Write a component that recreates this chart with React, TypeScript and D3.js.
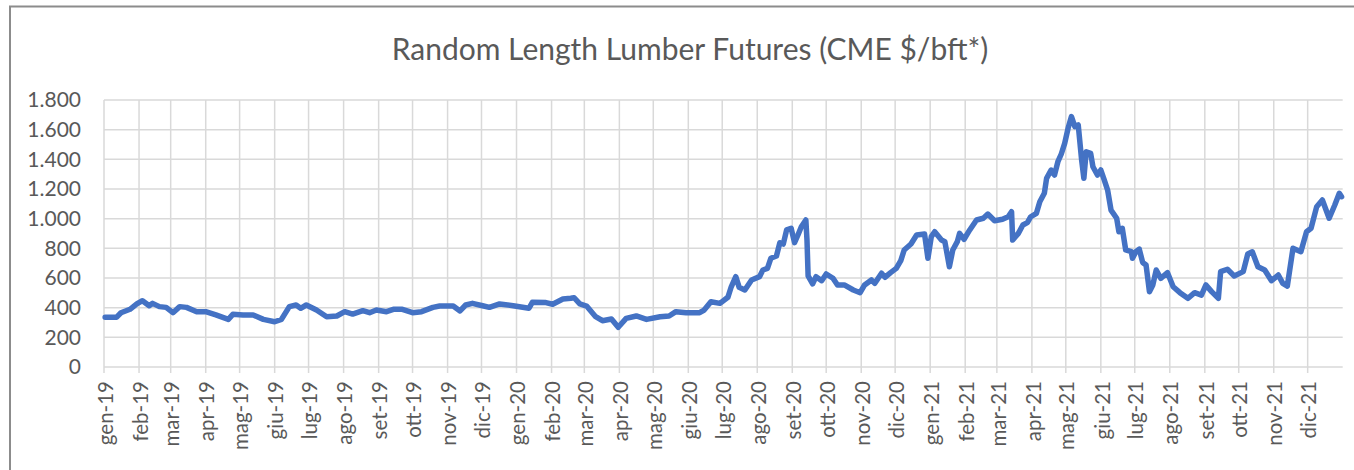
import React from "react";
import * as d3 from "d3";

const title = "Random Length Lumber Futures (CME $/bft*)";
const monthNames = ["gen", "feb", "mar", "apr", "mag", "giu", "lug", "ago", "set", "ott", "nov", "dic"];
const yTicks = [0, 200, 400, 600, 800, 1000, 1200, 1400, 1600, 1800];

const dates = [
  "2019-01-02","2019-01-12","2019-01-16","2019-01-24","2019-01-30","2019-02-04","2019-02-10","2019-02-13","2019-02-19","2019-02-25",
  "2019-03-03","2019-03-09","2019-03-15","2019-03-24","2019-04-01","2019-04-10","2019-04-21","2019-04-25","2019-05-04","2019-05-13",
  "2019-05-22","2019-06-01","2019-06-07","2019-06-14","2019-06-20","2019-06-24","2019-06-29","2019-07-08","2019-07-17","2019-07-26",
  "2019-08-02","2019-08-09","2019-08-18","2019-08-24","2019-08-30","2019-09-08","2019-09-14","2019-09-22","2019-10-01","2019-10-09",
  "2019-10-19","2019-10-25","2019-11-01","2019-11-06","2019-11-12","2019-11-17","2019-11-23","2019-12-02","2019-12-08","2019-12-17",
  "2019-12-29","2020-01-12","2020-01-15","2020-01-27","2020-02-02","2020-02-11","2020-02-18","2020-02-21","2020-02-26","2020-03-03",
  "2020-03-11","2020-03-17","2020-03-25","2020-03-31","2020-04-07","2020-04-16","2020-04-25","2020-05-07","2020-05-15","2020-05-21",
  "2020-05-30","2020-06-11","2020-06-15","2020-06-21","2020-06-29","2020-07-06","2020-07-09","2020-07-13","2020-07-16","2020-07-21",
  "2020-07-27","2020-08-03","2020-08-06","2020-08-10","2020-08-13","2020-08-18","2020-08-21","2020-08-24","2020-08-27","2020-08-31",
  "2020-09-03","2020-09-06","2020-09-09","2020-09-13","2020-09-14","2020-09-15","2020-09-19","2020-09-22","2020-09-27","2020-10-01",
  "2020-10-07","2020-10-11","2020-10-17","2020-10-25","2020-10-31","2020-11-04","2020-11-10","2020-11-13","2020-11-19","2020-11-22",
  "2020-11-27","2020-12-02","2020-12-06","2020-12-09","2020-12-15","2020-12-20","2020-12-27","2020-12-30","2021-01-02","2021-01-05",
  "2021-01-11","2021-01-14","2021-01-18","2021-01-21","2021-01-25","2021-01-27","2021-01-31","2021-02-05","2021-02-11","2021-02-17",
  "2021-02-21","2021-02-27","2021-03-06","2021-03-11","2021-03-14","2021-03-15","2021-03-20","2021-03-24","2021-03-28","2021-03-31",
  "2021-04-05","2021-04-08","2021-04-12","2021-04-14","2021-04-18","2021-04-21","2021-04-24","2021-04-27","2021-04-30","2021-05-03",
  "2021-05-06","2021-05-09","2021-05-12","2021-05-15","2021-05-17","2021-05-19","2021-05-23","2021-05-25","2021-05-29","2021-06-01",
  "2021-06-04","2021-06-07","2021-06-10","2021-06-15","2021-06-17","2021-06-20","2021-06-23","2021-06-28","2021-06-29","2021-07-02",
  "2021-07-05","2021-07-08","2021-07-11","2021-07-14","2021-07-17","2021-07-20","2021-07-24","2021-07-30","2021-08-04","2021-08-10",
  "2021-08-17","2021-08-23","2021-08-29","2021-09-02","2021-09-07","2021-09-13","2021-09-15","2021-09-21","2021-09-27","2021-10-05",
  "2021-10-09","2021-10-13","2021-10-18","2021-10-24","2021-10-30","2021-11-05","2021-11-09","2021-11-13","2021-11-18","2021-11-25",
  "2021-11-30","2021-12-04","2021-12-09","2021-12-14","2021-12-20","2021-12-25","2021-12-29","2021-12-31"
];

const values = [
  335, 335, 366, 389, 425, 447, 413, 429, 407, 402,
  366, 407, 402, 373, 373, 351, 321, 355, 351, 351,
  321, 305, 321, 407, 418, 396, 418, 384, 339, 344,
  373, 357, 380, 366, 384, 373, 389, 389, 366, 373,
  402, 411, 411, 411, 378, 418, 429, 413, 402, 425,
  413, 396, 436, 434, 423, 458, 463, 467, 425, 411,
  339, 312, 324, 268, 328, 344, 321, 339, 344, 373,
  366, 366, 384, 440, 429, 470, 541, 609, 537, 519,
  587, 609, 654, 665, 733, 748, 838, 829, 924, 935,
  838, 890, 946, 991, 856, 614, 560, 609, 582, 627,
  598, 553, 553, 519, 501, 553, 587, 564, 632, 605,
  636, 665, 717, 789, 829, 890, 897, 733, 879, 912,
  856, 845, 676, 789, 845, 901, 861, 924, 991, 1003,
  1031, 986, 996, 1013, 1047, 856, 901, 957, 973, 1013,
  1036, 1114, 1171, 1272, 1328, 1294, 1384, 1436, 1508, 1609,
  1688, 1620, 1632, 1396, 1272, 1451, 1440, 1350, 1294, 1328,
  1261, 1193, 1058, 1003, 912, 935, 789, 777, 733, 777,
  795, 705, 688, 508, 553, 654, 598, 636, 541, 501,
  463, 501, 485, 553, 508, 463, 643, 659, 614, 643,
  762, 777, 676, 654, 582, 620, 564, 546, 800, 777,
  912, 935, 1081, 1126, 1003, 1092, 1171, 1148
];

const W = 1354;
const H = 470;
const plotLeft = 104;
const plotRight = 1342.7;
const plotTop = 100;
const plotBottom = 367;
const textColor = "#595959";
const gridColor = "#d9d9d9";
const fontFamily = "Lato, 'Open Sans', sans-serif";

export default function App() {
  const parse = d3.timeParse("%Y-%m-%d");
  const start = new Date(2019, 0, 1);
  const end = new Date(2022, 0, 1);
  const x = d3.scaleTime().domain([start, end]).range([plotLeft, plotRight]);
  const y = d3.scaleLinear().domain([0, 1800]).range([plotBottom, plotTop]);
  const months = d3.timeMonth.range(start, end);
  const data = dates.map((d, i) => ({ date: parse(d) as Date, value: values[i] }));
  const line = d3
    .line<{ date: Date; value: number }>()
    .x((d) => x(d.date))
    .y((d) => y(d.value));
  const fmtY = (v: number) => (v >= 1000 ? `${Math.floor(v / 1000)}.${String(v % 1000).padStart(3, "0")}` : String(v));
  const fmtX = (d: Date) => `${monthNames[d.getMonth()]}-${String(d.getFullYear()).slice(2)}`;

  return (
    <svg
      width={W}
      height={H}
      style={{ position: "absolute", left: 0, top: 0, background: "#fff" }}
      fontFamily={fontFamily}
    >
      <rect x={10} y={6.5} width={W + 20} height={H + 20} fill="#fff" stroke="#8c8c8c" strokeWidth={2} />
      <text x={690} y={60} textAnchor="middle" fontSize={30} fill={textColor} fontWeight={400}>
        {title}
      </text>
      {yTicks.map((t) => (
        <line key={"h" + t} x1={plotLeft} x2={plotRight} y1={y(t)} y2={y(t)} stroke={gridColor} strokeWidth={1.5} />
      ))}
      {months.map((m) => (
        <line key={"v" + m.getTime()} x1={x(m)} x2={x(m)} y1={plotTop} y2={plotBottom + 6} stroke={gridColor} strokeWidth={1.5} />
      ))}
      {yTicks.map((t) => (
        <text key={"yl" + t} x={81} y={y(t)} dy="0.35em" textAnchor="end" fontSize={21} fill={textColor}>
          {fmtY(t)}
        </text>
      ))}
      {months.map((m) => (
        <text
          key={"xl" + m.getTime()}
          transform={`translate(${x(m) + 1.5},381) rotate(-90)`}
          dy="0.35em"
          textAnchor="end"
          fontSize={20.5}
          fill={textColor}
        >
          {fmtX(m)}
        </text>
      ))}
      <path d={line(data) || ""} fill="none" stroke="#4472C4" strokeWidth={5.5} strokeLinejoin="round" strokeLinecap="round" />
    </svg>
  );
}
